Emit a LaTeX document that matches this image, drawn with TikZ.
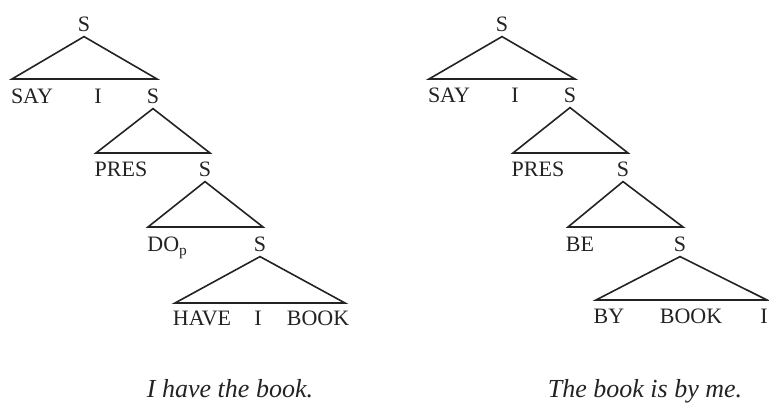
\documentclass[tikz,border=0pt]{standalone}
\usepackage{fontspec}
\setmainfont{Liberation Serif}
\definecolor{ink}{RGB}{35,35,35}

\begin{document}
\begin{tikzpicture}[x=0.5pt, y=0.5pt,
    word/.style={anchor=base,
        inner sep=0pt,
        font=\fontsize{11}{13}\selectfont,
        text=ink
        },
    caption/.style={anchor=base,
        inner sep=0pt,
        font=\fontsize{13}{15}\selectfont\itshape,
        text=ink
        },
    branch/.style={line width=0.8pt,
        color=ink,
        line join=miter
        },
    ]
    \useasboundingbox (0,0) rectangle (769,-405);

    % left tree: I have the book.
    \node[word] (l_s1) at (84,-32) {S};
    \node[word] (l_say) at (32,-104) {SAY};
    \node[word] (l_i1) at (98,-104) {I};
    \node[word] (l_s2) at (153,-104) {S};
    \node[word] (l_pres) at (121,-177) {PRES};
    \node[word] (l_s3) at (205,-177) {S};
    \node[word, anchor=base west] (l_do) at (147,-252) {DO$_\mathrm{p}$};
    \node[word] (l_s4) at (260,-252) {S};
    \node[word] (l_have) at (202,-325) {HAVE};
    \node[word] (l_i2) at (258,-325) {I};
    \node[word] (l_book) at (318,-325) {BOOK};

    \coordinate (l_b1w) at (12,-79);
    \coordinate (l_b1e) at (157,-79);
    \coordinate (l_b2w) at (96,-153);
    \coordinate (l_b2e) at (210,-153);
    \coordinate (l_b3w) at (148,-227);
    \coordinate (l_b3e) at (263,-227);
    \coordinate (l_b4w) at (175,-303);
    \coordinate (l_b4e) at (345,-303);

    \draw[branch] ([yshift=-2pt]l_s1.south) -- (l_b1w) -- (l_b1e) -- cycle;
    \draw[branch] ([yshift=-2pt]l_s2.south) -- (l_b2w) -- (l_b2e) -- cycle;
    \draw[branch] ([yshift=-2pt]l_s3.south) -- (l_b3w) -- (l_b3e) -- cycle;
    \draw[branch] ([yshift=-2pt]l_s4.south) -- (l_b4w) -- (l_b4e) -- cycle;

    % right tree: The book is by me.
    \node[word] (r_s1) at (502,-32) {S};
    \node[word] (r_say) at (449,-103) {SAY};
    \node[word] (r_i1) at (515,-103) {I};
    \node[word] (r_s2) at (570,-103) {S};
    \node[word] (r_pres) at (538,-177) {PRES};
    \node[word] (r_s3) at (623,-177) {S};
    \node[word] (r_be) at (580,-252) {BE};
    \node[word] (r_s4) at (680,-252) {S};
    \node[word] (r_by) at (609,-323) {BY};
    \node[word] (r_book) at (691,-323) {BOOK};
    \node[word] (r_i2) at (764,-323) {I};

    \coordinate (r_b1w) at (429,-79);
    \coordinate (r_b1e) at (575,-79);
    \coordinate (r_b2w) at (513,-153);
    \coordinate (r_b2e) at (628,-153);
    \coordinate (r_b3w) at (568,-227);
    \coordinate (r_b3e) at (683,-227);
    \coordinate (r_b4w) at (596,-300);
    \coordinate (r_b4e) at (767,-300);

    \draw[branch] ([yshift=-2pt]r_s1.south) -- (r_b1w) -- (r_b1e) -- cycle;
    \draw[branch] ([yshift=-2pt]r_s2.south) -- (r_b2w) -- (r_b2e) -- cycle;
    \draw[branch] ([yshift=-2pt]r_s3.south) -- (r_b3w) -- (r_b3e) -- cycle;
    \draw[branch] ([yshift=-2pt]r_s4.south) -- (r_b4w) -- (r_b4e) -- cycle;

    % captions
    \node[caption] (l_caption) at (230,-397) {I have the book.};
    \node[caption] (r_caption) at (645,-397) {The book is by me.};

\end{tikzpicture}
\end{document}
